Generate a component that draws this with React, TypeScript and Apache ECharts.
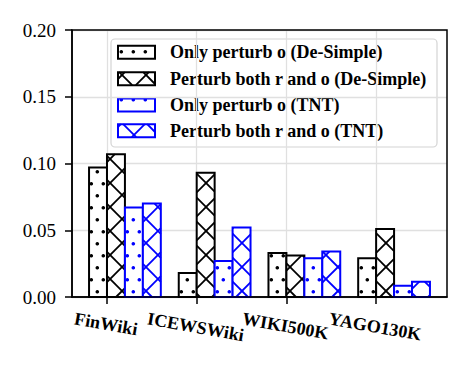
import React, { useEffect, useRef } from "react";
import * as echarts from "echarts";

const categories = ["FinWiki", "ICEWSWiki", "WIKI500K", "YAGO130K"];
const onlyODeSimple = [0.097, 0.018, 0.033, 0.029];
const bothDeSimple = [0.107, 0.093, 0.031, 0.051];
const onlyOTNT = [0.067, 0.027, 0.029, 0.0085];
const bothTNT = [0.07, 0.052, 0.034, 0.0115];
const seriesNames = [
  "Only perturb o (De-Simple)",
  "Perturb both r and o (De-Simple)",
  "Only perturb o (TNT)",
  "Perturb both r and o (TNT)",
];
const yTicks = [0, 0.05, 0.1, 0.15, 0.2];

const FONT = "'Liberation Serif', 'DejaVu Serif', serif";
const XLABEL_FONT = `bold 18px ${FONT}`;

type Hatch = "dots" | "cross";

function hatchElements(x0: number, y0: number, x1: number, y1: number, kind: Hatch, color: string) {
  const els: any[] = [];
  if (kind === "dots") {
    const p = 12;
    const r = 1.8;
    const jStart = Math.ceil((y0 - 171.7) / p);
    const jEnd = Math.floor((y1 - 171.7) / p);
    for (let j = jStart; j <= jEnd; j++) {
      const y = 171.7 + j * p;
      if (y < y0 + 0.5 || y > y1 - 0.5) continue;
      const base = Math.abs(j) % 2 === 0 ? 1.3 : 7.3;
      const kStart = Math.ceil((x0 - base) / p);
      for (let k = kStart; base + k * p <= x1; k++) {
        const x = base + k * p;
        if (x < x0 + 0.5 || x > x1 - 0.5) continue;
        els.push({ type: "circle", shape: { cx: x, cy: y, r }, style: { fill: color }, silent: true });
      }
    }
  } else {
    const p = 24;
    const lw = 1.8;
    let c = Math.ceil((x0 + y0 - 5) / p) * p + 5;
    for (; c <= x1 + y1; c += p) {
      const xa = Math.max(x0, c - y1);
      const xb = Math.min(x1, c - y0);
      if (xb - xa > 0.2) {
        els.push({ type: "line", shape: { x1: xa, y1: c - xa, x2: xb, y2: c - xb }, style: { stroke: color, lineWidth: lw }, silent: true });
      }
    }
    let d = Math.ceil((x0 - y1 - 23) / p) * p + 23;
    for (; d <= x1 - y0; d += p) {
      const xa = Math.max(x0, d + y0);
      const xb = Math.min(x1, d + y1);
      if (xb - xa > 0.2) {
        els.push({ type: "line", shape: { x1: xa, y1: xa - d, x2: xb, y2: xb - d }, style: { stroke: color, lineWidth: lw }, silent: true });
      }
    }
  }
  return els;
}

const seriesDefs = [
  { name: seriesNames[0], data: onlyODeSimple, color: "#000000", hatch: "dots" as Hatch, offset: -0.1 },
  { name: seriesNames[1], data: bothDeSimple, color: "#000000", hatch: "cross" as Hatch, offset: 0.1 },
  { name: seriesNames[2], data: onlyOTNT, color: "#0000ff", hatch: "dots" as Hatch, offset: 0.3 },
  { name: seriesNames[3], data: bothTNT, color: "#0000ff", hatch: "cross" as Hatch, offset: 0.5 },
];

const BAR_W = 0.2;

function measure(text: string, font: string) {
  const cv = document.createElement("canvas");
  const ctx = cv.getContext("2d");
  if (!ctx) return text.length * 9;
  ctx.font = font;
  return ctx.measureText(text).width;
}

export default function App() {
  const ref = useRef<HTMLDivElement>(null);
  useEffect(() => {
    if (!ref.current) return;
    const chart = echarts.init(ref.current, null, { renderer: "svg" });

    const series: any[] = seriesDefs.map((s) => ({
      type: "custom",
      name: s.name,
      data: s.data.map((v, i) => [i, v]),
      encode: { x: 0, y: 1 },
      z: 3,
      renderItem: (params: any, api: any) => {
        const i = api.value(0);
        const v = api.value(1);
        const tl = api.coord([i + s.offset - BAR_W / 2, v]);
        const br = api.coord([i + s.offset + BAR_W / 2, 0]);
        const x0 = tl[0], y0 = tl[1], x1 = br[0], y1 = br[1];
        const children: any[] = [
          { type: "rect", shape: { x: x0, y: y0, width: x1 - x0, height: y1 - y0 }, style: { fill: "#ffffff" } },
          ...hatchElements(x0, y0, x1, y1, s.hatch, s.color),
          { type: "rect", shape: { x: x0, y: y0, width: x1 - x0, height: y1 - y0 }, style: { fill: "none", stroke: s.color, lineWidth: 2 } },
        ];
        return { type: "group", children };
      },
    }));

    // category labels, rotated, placed at the axis ticks
    const ang = (10 * Math.PI) / 180;
    series.push({
      type: "custom",
      name: "xlabels",
      silent: true,
      clip: false,
      data: categories.map((_, i) => [i, 0]),
      encode: { x: 0, y: 1 },
      z: 5,
      renderItem: (params: any, api: any) => {
        const i = api.value(0);
        const p = api.coord([i, 0]);
        const text = categories[i];
        const w = measure(text, XLABEL_FONT);
        const bboxH = w * Math.sin(ang) + 13 * Math.cos(ang);
        const cx = p[0] - 1;
        const cy = p[1] + 15 + bboxH / 2;
        return {
          type: "text",
          x: cx,
          y: cy,
          rotation: -ang,
          style: { text, font: XLABEL_FONT, fill: "#000000", align: "center", verticalAlign: "middle" },
        };
      },
    });

    const legX = 111, legY = 39, legW = 326, legH = 108;
    const rowCenters = [52.3, 78.7, 105, 130.7];
    const legendChildren: any[] = [
      { type: "rect", shape: { x: legX, y: legY, width: legW, height: legH, r: 4 }, style: { fill: "rgba(255,255,255,0.85)", stroke: "#d4d4d4", lineWidth: 1.2 } },
    ];
    seriesDefs.forEach((s, k) => {
      const cy = rowCenters[k];
      const hx0 = 118, hx1 = 155, hy0 = cy - 6.5, hy1 = cy + 6.5;
      legendChildren.push({ type: "rect", shape: { x: hx0, y: hy0, width: hx1 - hx0, height: hy1 - hy0 }, style: { fill: "#ffffff" } });
      hatchElements(hx0, hy0, hx1, hy1, s.hatch, s.color).forEach((e) => legendChildren.push(e));
      legendChildren.push({ type: "rect", shape: { x: hx0, y: hy0, width: hx1 - hx0, height: hy1 - hy0 }, style: { fill: "none", stroke: s.color, lineWidth: 2 } });
      legendChildren.push({
        type: "text",
        x: 170,
        y: cy,
        style: { text: s.name, font: `bold 18px ${FONT}`, fill: "#000000", verticalAlign: "middle" },
      });
    });

    chart.setOption({
      animation: false,
      backgroundColor: "#ffffff",
      grid: { left: 72, right: 22, top: 30, bottom: 70, show: true, borderColor: "#000000", borderWidth: 1.5, backgroundColor: "transparent", z: 4 },
      xAxis: {
        type: "value",
        min: -0.39,
        max: 3.79,
        axisLine: { show: true, onZero: false, lineStyle: { color: "#000000", width: 1.5 } },
        axisTick: { show: true, customValues: [0, 1, 2, 3], length: 7, inside: false, lineStyle: { color: "#000000", width: 1.5 } },
        splitLine: { show: true, lineStyle: { color: "#e0e0e0", width: 1.3 } },
        axisLabel: { show: false, customValues: [0, 1, 2, 3] },
      },
      yAxis: {
        type: "value",
        min: yTicks[0],
        max: yTicks[yTicks.length - 1],
        interval: 0.05,
        axisLine: { show: true, onZero: false, lineStyle: { color: "#000000", width: 1.5 } },
        axisTick: { show: true, length: 7, inside: false, lineStyle: { color: "#000000", width: 1.5 } },
        splitLine: { show: true, lineStyle: { color: "#e0e0e0", width: 1.3 } },
        axisLabel: {
          formatter: (v: number) => v.toFixed(2),
          margin: 16,
          fontFamily: FONT,
          fontSize: 19,
          color: "#000000",
        },
      },
      graphic: [{ type: "group", z: 20, children: legendChildren }],
      series,
    });
    return () => chart.dispose();
  }, []);
  return <div ref={ref} style={{ position: "fixed", left: 0, top: 0, width: 469, height: 367 }} />;
}
